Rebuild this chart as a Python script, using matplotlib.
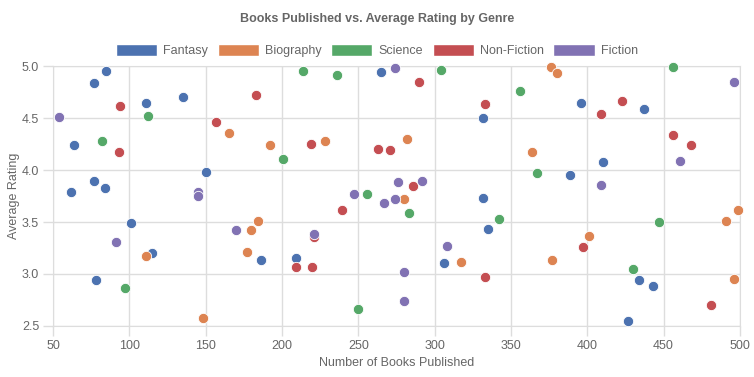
import matplotlib.pyplot as plt
from matplotlib.patches import Patch

plt.rcParams['font.family'] = ['Liberation Sans', 'DejaVu Sans']

# data
genres = ['Fantasy', 'Biography', 'Science', 'Non-Fiction', 'Fiction']
colors = ['#4c72b0', '#dd8452', '#55a868', '#c44e52', '#8172b3']

fantasy_x = [85, 77, 111, 135, 64, 150, 77, 84, 62, 101, 115, 78, 186, 209, 265, 332, 332, 335, 306, 396, 437, 410, 389, 434, 443, 427]
fantasy_y = [4.95, 4.84, 4.64, 4.70, 4.24, 3.98, 3.89, 3.83, 3.79, 3.49, 3.20, 2.94, 3.13, 3.15, 4.94, 4.50, 3.73, 3.43, 3.11, 4.64, 4.59, 4.08, 3.95, 2.94, 2.88, 2.55]

biography_x = [111, 148, 165, 192, 228, 184, 180, 177, 282, 364, 280, 317, 376, 380, 499, 491, 401, 377, 496]
biography_y = [3.17, 2.58, 4.36, 4.24, 4.28, 3.51, 3.42, 3.21, 4.30, 4.17, 3.72, 3.12, 4.99, 4.93, 3.62, 3.51, 3.37, 3.13, 2.95]

science_x = [112, 82, 97, 214, 236, 201, 256, 250, 304, 356, 367, 283, 342, 456, 447, 430]
science_y = [4.52, 4.28, 2.87, 4.95, 4.91, 4.11, 3.77, 2.66, 4.96, 4.76, 3.97, 3.59, 3.53, 4.99, 3.50, 3.05]

nonfiction_x = [94, 157, 93, 183, 219, 263, 239, 221, 209, 220, 290, 333, 271, 286, 333, 423, 409, 456, 468, 397, 481]
nonfiction_y = [4.62, 4.46, 4.17, 4.72, 4.25, 4.20, 3.62, 3.36, 3.07, 3.07, 4.85, 4.63, 4.19, 3.85, 2.97, 4.66, 4.54, 4.34, 4.24, 3.26, 2.70]

fiction_x = [54, 145, 145, 91, 247, 170, 221, 274, 276, 292, 267, 274, 308, 280, 280, 496, 461, 409]
fiction_y = [4.51, 3.79, 3.75, 3.31, 3.77, 3.42, 3.38, 4.98, 3.88, 3.89, 3.68, 3.72, 3.27, 3.02, 2.74, 4.85, 4.09, 3.86]

series = [(fantasy_x, fantasy_y), (biography_x, biography_y), (science_x, science_y),
          (nonfiction_x, nonfiction_y), (fiction_x, fiction_y)]

fig = plt.figure(figsize=(7.54, 3.77), dpi=100)
ax = fig.add_axes([0.0703, 0.1353, 0.911, 0.6896])

for (xs, ys), c in zip(series, colors):
    ax.scatter(xs, ys, s=55, color=c, edgecolors='white', linewidths=0.6, zorder=3, clip_on=False)

ax.set_xlim(50, 500)
ax.set_ylim(2.5, 5.0)
ax.set_xticks(range(50, 501, 50))
ax.set_yticks([2.5, 3.0, 3.5, 4.0, 4.5, 5.0])
ax.grid(True, color='#dddddd', linewidth=1)
for s in ax.spines.values():
    s.set_color('#dddddd')
ax.tick_params(colors='#666666', labelsize=9, length=7, width=1, pad=3)
ax.tick_params(axis='both', color='#dddddd')
ax.set_xlabel('Number of Books Published', color='#666666', fontsize=9)
ax.set_ylabel('Average Rating', color='#666666', fontsize=9, labelpad=1)

fig.suptitle('Books Published vs. Average Rating by Genre', y=0.965, fontsize=9,
             fontweight='bold', color='#666666')

handles = [Patch(facecolor=c, edgecolor='white', label=g) for g, c in zip(genres, colors)]
fig.legend(handles=handles, loc='center', bbox_to_anchor=(0.5, 0.867), ncol=5, frameon=False,
           fontsize=9, handlelength=3.3, handleheight=1.1, handletextpad=0.5,
           columnspacing=0.75, labelcolor='#666666')

fig.savefig('out.png', dpi=100)
